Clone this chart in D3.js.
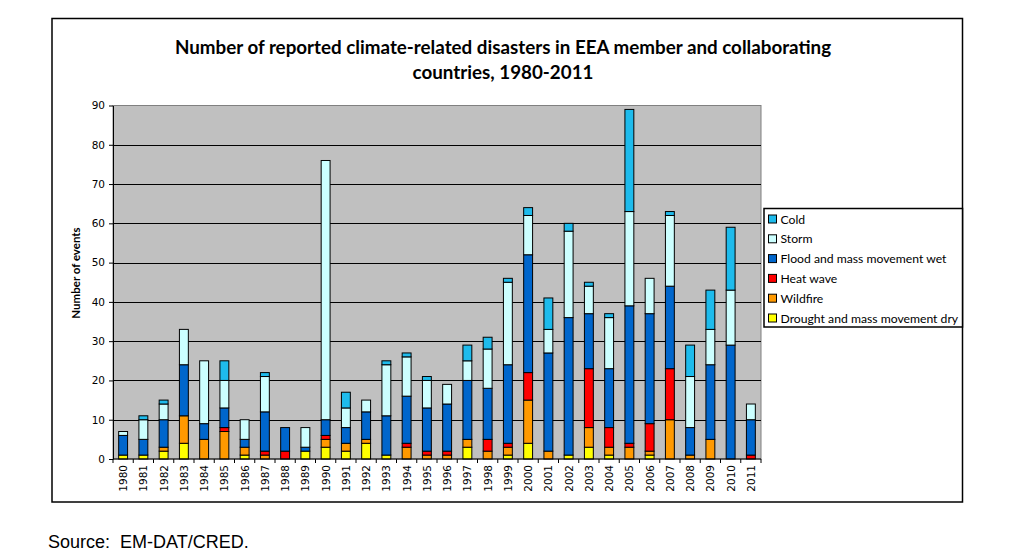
<!DOCTYPE html>
<html>
<head>
<meta charset="utf-8">
<script src="https://cdn.jsdelivr.net/npm/d3@7"></script>
<style>
  html, body { margin: 0; padding: 0; background: #fff; }
  svg { display: block; }
</style>
</head>
<body>
<svg id="chart" width="1021" height="560"></svg>
<script>
// ---- Data ----
const years = ["1980","1981","1982","1983","1984","1985","1986","1987","1988","1989",
  "1990","1991","1992","1993","1994","1995","1996","1997","1998","1999",
  "2000","2001","2002","2003","2004","2005","2006","2007","2008","2009","2010","2011"];
const drought  = [1,1,2,4,0,0,1,0,0,2, 3,2,4,1,0,0,0,3,0,1, 4,0,1,3,1,0,1,0,0,0,0,0];
const wildfire = [0,0,1,7,5,7,2,1,0,0, 2,2,1,0,3,1,1,2,2,2, 11,2,0,5,2,3,1,10,1,5,0,0];
const heatwave = [0,0,0,0,0,1,0,1,2,0, 1,0,0,0,1,1,1,0,3,1, 7,0,0,15,5,1,7,13,0,0,0,1];
const flood    = [5,4,7,13,4,5,2,10,6,1, 4,4,7,10,12,11,12,15,13,20, 30,25,35,14,15,35,28,21,7,19,29,9];
const storm    = [1,5,4,9,16,7,5,9,0,5, 66,5,3,13,10,7,5,5,10,21, 10,6,22,7,13,24,9,18,13,9,14,4];
const cold     = [0,1,1,0,0,5,0,1,0,0, 0,4,0,1,1,1,0,4,3,1, 2,8,2,1,1,26,0,1,8,10,16,0];
const seriesNames = ["Drought and mass movement dry","Wildfire","Heat wave","Flood and mass movement wet","Storm","Cold"];
const seriesColors = ["#FFFF00","#FF9900","#FF0000","#0066CC","#CCFFFF","#1EBBEC"];
const yTicks = [0,10,20,30,40,50,60,70,80,90];
const titleLines = ["Number of reported climate-related disasters in EEA member and collaborating","countries, 1980-2011"];
const yAxisTitle = "Number of events";
const sourceText = "Source:  EM-DAT/CRED.";

const seriesValues = [drought, wildfire, heatwave, flood, storm, cold];
const table = years.map((y, i) => {
  const row = { year: y };
  seriesNames.forEach((n, k) => row[n] = seriesValues[k][i]);
  return row;
});

// ---- Layout ----
const svg = d3.select("#chart");
const plot = { left: 113, right: 761, top: 105.5, bottom: 459 };

// outer frame
svg.append("rect").attr("x", 52).attr("y", 18.5).attr("width", 910.5).attr("height", 483.5)
  .attr("fill", "none").attr("stroke", "#000").attr("stroke-width", 1.5);

const x = d3.scaleBand().domain(years).range([plot.left, plot.right]).padding(0);
const y = d3.scaleLinear().domain([0, 90]).range([plot.bottom, plot.top]);

// plot area
svg.append("rect").attr("x", plot.left).attr("y", plot.top)
  .attr("width", plot.right - plot.left).attr("height", plot.bottom - plot.top)
  .attr("fill", "#C0C0C0").attr("stroke", "#808080").attr("stroke-width", 1);

// gridlines
svg.append("g").selectAll("line").data(yTicks.filter(t => t > 0 && t < 90)).join("line")
  .attr("x1", plot.left).attr("x2", plot.right)
  .attr("y1", d => Math.round(y(d)) + 0.5).attr("y2", d => Math.round(y(d)) + 0.5)
  .attr("stroke", "#000").attr("stroke-width", 1);

// stacked bars
const stack = d3.stack().keys(seriesNames);
const stacked = stack(table);
const barW = x.bandwidth() * 0.44;
svg.append("g").selectAll("g").data(stacked).join("g")
  .attr("fill", (d, i) => seriesColors[i])
  .selectAll("rect").data(d => d.filter(s => s[1] - s[0] > 0)).join("rect")
  .attr("x", d => x(d.data.year) + (x.bandwidth() - barW) / 2)
  .attr("width", barW)
  .attr("y", d => y(d[1]))
  .attr("height", d => y(d[0]) - y(d[1]))
  .attr("stroke", "#000").attr("stroke-width", 1);

// y axis
const yAxis = d3.axisLeft(y).tickValues(yTicks).tickSize(4).tickPadding(4).tickSizeOuter(0);
const yg = svg.append("g").attr("transform", `translate(${plot.left},0)`).call(yAxis);
yg.select(".domain").attr("stroke", "#000");
yg.selectAll(".tick line").attr("stroke", "#000");
yg.selectAll("text").attr("font-family", "'DejaVu Sans', Verdana, sans-serif")
  .attr("font-size", "10.5px").attr("fill", "#000");

// x axis: ticks at category boundaries
const xg = svg.append("g").attr("transform", `translate(0,${plot.bottom})`);
xg.append("line").attr("x1", plot.left).attr("x2", plot.right).attr("y1", 0).attr("y2", 0)
  .attr("stroke", "#000");
const bounds = years.map(yv => x(yv)).concat([x(years[years.length - 1]) + x.bandwidth()]);
xg.selectAll("line.t").data(bounds).join("line").attr("class", "t")
  .attr("x1", d => d).attr("x2", d => d).attr("y1", 0).attr("y2", 4).attr("stroke", "#000");
xg.selectAll("text").data(years).join("text")
  .attr("transform", d => `translate(${x(d) + x.bandwidth() / 2 + 4},6) rotate(-90)`)
  .attr("text-anchor", "end")
  .attr("font-family", "'DejaVu Sans', Verdana, sans-serif")
  .attr("font-size", "10.5px").attr("fill", "#000")
  .text(d => d);

// y axis title
svg.append("text")
  .attr("transform", `translate(80,273) rotate(-90)`)
  .attr("text-anchor", "middle")
  .attr("font-family", "Lato, 'Open Sans', sans-serif")
  .attr("font-weight", "bold").attr("font-size", "11.5px").attr("fill", "#000")
  .text(yAxisTitle);

// title
svg.append("g").selectAll("text").data(titleLines).join("text")
  .attr("x", 503).attr("y", (d, i) => 54 + i * 25)
  .attr("text-anchor", "middle")
  .attr("font-family", "Lato, 'Open Sans', sans-serif")
  .attr("font-weight", "bold").attr("font-size", "18.8px").attr("fill", "#000")
  .text(d => d);

// legend
const legend = svg.append("g");
legend.append("rect").attr("x", 764).attr("y", 208.5).attr("width", 198.5).attr("height", 118.5)
  .attr("fill", "#fff").attr("stroke", "#000").attr("stroke-width", 1.5);
const legendOrder = seriesNames.map((n, i) => ({ name: n, color: seriesColors[i] })).reverse();
const li = legend.selectAll("g.item").data(legendOrder).join("g").attr("class", "item")
  .attr("transform", (d, i) => `translate(768,${219 + i * 19.8})`);
li.append("rect").attr("x", 0.5).attr("y", -4).attr("width", 8).attr("height", 8)
  .attr("fill", d => d.color).attr("stroke", "#000").attr("stroke-width", 1);
li.append("text").attr("x", 12.5).attr("y", 4.5)
  .attr("font-family", "Lato, 'Open Sans', sans-serif")
  .attr("font-size", "12.2px").attr("fill", "#000")
  .text(d => d.name);

// source
svg.append("text").attr("x", 48).attr("y", 548)
  .attr("font-family", "'Liberation Sans', Arial, sans-serif")
  .attr("font-size", "18px").attr("fill", "#000")
  .style("white-space", "pre")
  .text(sourceText);
</script>
</body>
</html>
